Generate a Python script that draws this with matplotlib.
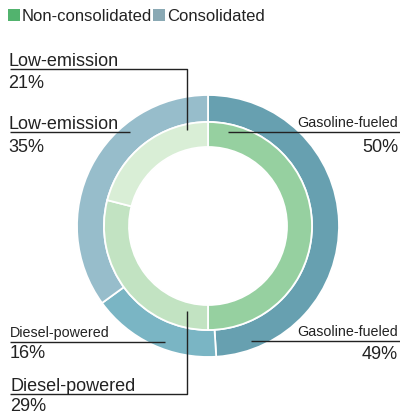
import matplotlib
matplotlib.use("Agg")
import matplotlib.pyplot as plt
from matplotlib import font_manager

# ---- data ----
categories = ["Gasoline-fueled", "Diesel-powered", "Low-emission"]
consolidated = [49, 16, 35]
non_consolidated = [50, 29, 21]
legend_labels = ["Non-consolidated", "Consolidated"]

outer_colors = ["#67a0b0", "#7ab5c4", "#97bdcb"]
inner_colors = ["#96d0a0", "#c2e3c2", "#d9eed6"]
legend_colors = ["#52b36e", "#8aa9b4"]

W, H = 400, 418
fig = plt.figure(figsize=(W / 100, H / 100), dpi=100)
ax = fig.add_axes([0, 0, 1, 1])

def Y(y):
    return H - y

names = {f.name for f in font_manager.fontManager.ttflist}
main_font = "Liberation Sans" if "Liberation Sans" in names else "DejaVu Sans"
narrow_font = "Liberation Sans Narrow" if "Liberation Sans Narrow" in names else None
txt_col = "#222222"

cx, cy = 208, 226
ax.pie(consolidated, radius=131, center=(cx, Y(cy)), startangle=90, counterclock=False,
       colors=outer_colors, wedgeprops=dict(width=27, edgecolor="white", linewidth=1.3))
ax.pie(non_consolidated, radius=104, center=(cx, Y(cy)), startangle=90, counterclock=False,
       colors=inner_colors, wedgeprops=dict(width=25, edgecolor="white", linewidth=1.3))

ax.set_xlim(0, W)
ax.set_ylim(0, H)
ax.set_aspect("equal")
ax.axis("off")

big = 13
if narrow_font:
    small_kw = dict(family=narrow_font, fontsize=12.5)
else:
    small_kw = dict(family=main_font, fontsize=10.3)

def T(x, y, s, ha="left", **kw):
    d = dict(family=main_font, fontsize=big)
    d.update(kw)
    ax.text(x, Y(y), s, ha=ha, va="baseline", color=txt_col, **d)

def L(xs, ys):
    ax.plot(xs, [Y(v) for v in ys], color="#222222", lw=1.0, solid_capstyle="butt")

# Low-emission (inner) 21%
T(8, 66, categories[2])
T(8, 88, f"{non_consolidated[2]}%")
L([10, 187, 187], [69, 69, 130])

# Low-emission (outer) 35%
T(8, 129, categories[2])
T(8, 152, f"{consolidated[2]}%")
L([10, 130], [132, 132])

# Gasoline-fueled (inner) 50%
T(398, 127, categories[0], ha="right", **small_kw)
T(398, 152, f"{non_consolidated[0]}%", ha="right")
L([228, 400], [132, 132])

# Gasoline-fueled (outer) 49%
T(398, 336, categories[0], ha="right", **small_kw)
T(398, 359, f"{consolidated[0]}%", ha="right")
L([251, 400], [341, 341])

# Diesel-powered (outer) 16%
T(10, 337, categories[1], **small_kw)
T(10, 358, f"{consolidated[1]}%")
L([10, 165], [342, 342])

# Diesel-powered (inner) 29%
T(10, 391, categories[1])
T(10, 411, f"{non_consolidated[1]}%")
L([10, 187, 187], [394, 394, 311])

# Legend
from matplotlib.patches import Rectangle
lx = [8, 153]
tx = [22, 167]
for i in range(2):
    ax.add_patch(Rectangle((lx[i], Y(21)), 12, 12, color=legend_colors[i], lw=0))
    T(tx[i], 21, legend_labels[i], fontsize=12)

fig.savefig("out.png", dpi=100)
